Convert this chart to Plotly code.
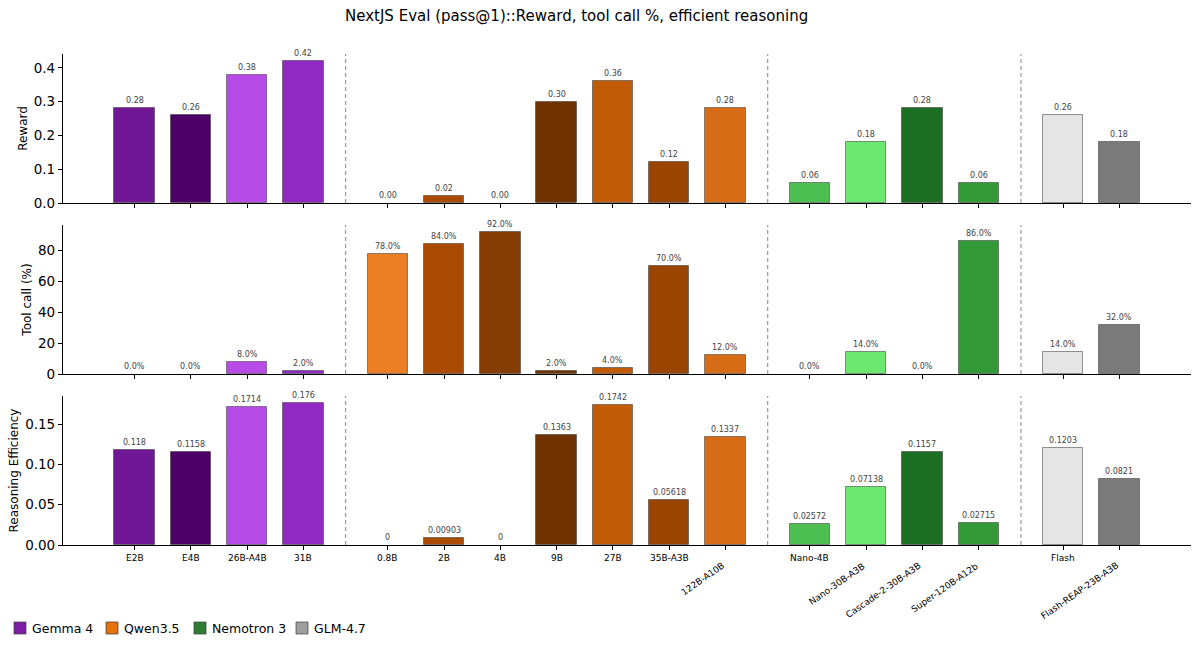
import plotly.graph_objects as go

# ---------------- data ----------------
families = ["Gemma 4", "Qwen3.5", "Nemotron 3", "GLM-4.7"]
family_colors = ["#7b1fa2", "#e8720c", "#2e7d32", "#9e9e9e"]

gemma_models = ["E2B", "E4B", "26B-A4B", "31B"]
qwen_models = ["0.8B", "2B", "4B", "9B", "27B", "35B-A3B", "122B-A10B"]
nemotron_models = ["Nano-4B", "Nano-30B-A3B", "Cascade-2-30B-A3B", "Super-120B-A12b"]
glm_models = ["Flash", "Flash-REAP-23B-A3B"]

gemma_colors = ["#6f1795", "#4d0068", "#b84ae8", "#9228c3"]
qwen_colors = ["#ea7f26", "#ab4b02", "#853b02", "#6f3200", "#c15b05", "#994400", "#d66c16"]
nemotron_colors = ["#4cbf50", "#6ce870", "#1b6e22", "#329a37"]
glm_colors = ["#e5e5e5", "#7a7a7a"]

gemma_reward = [0.28, 0.26, 0.38, 0.42]
qwen_reward = [0.00, 0.02, 0.00, 0.30, 0.36, 0.12, 0.28]
nemotron_reward = [0.06, 0.18, 0.28, 0.06]
glm_reward = [0.26, 0.18]

gemma_tool = [0.0, 0.0, 8.0, 2.0]
qwen_tool = [78.0, 84.0, 92.0, 2.0, 4.0, 70.0, 12.0]
nemotron_tool = [0.0, 14.0, 0.0, 86.0]
glm_tool = [14.0, 32.0]

gemma_eff = [0.118, 0.1158, 0.1714, 0.176]
qwen_eff = [0, 0.00903, 0, 0.1363, 0.1742, 0.05618, 0.1337]
nemotron_eff = [0.02572, 0.07138, 0.1157, 0.02715]
glm_eff = [0.1203, 0.0821]

title = "NextJS Eval (pass@1)::Reward, tool call %, efficient reasoning"
y_titles = ["Reward", "Tool call (%)", "Reasoning Efficiency"]

# ---------------- assemble ----------------
groups = [gemma_models, qwen_models, nemotron_models, glm_models]
models = sum(groups, [])
colors = gemma_colors + qwen_colors + nemotron_colors + glm_colors
reward = gemma_reward + qwen_reward + nemotron_reward + glm_reward
tool = gemma_tool + qwen_tool + nemotron_tool + glm_tool
eff = gemma_eff + qwen_eff + nemotron_eff + glm_eff

GAP = 0.5
xpos = []
dividers = []
cur = 0.0
for gi, g in enumerate(groups):
    for _ in g:
        xpos.append(cur)
        cur += 1
    if gi < len(groups) - 1:
        dividers.append(cur - 1 + (1 + GAP) / 2)
        cur += GAP

metrics = [reward, tool, eff]
fmts = [lambda v: f"{v:.2f}", lambda v: f"{v:.1f}%", lambda v: f"{v:.4g}"]
tickfmts = [".1f", "d", ".2f"]
dtick = [0.1, 20, 0.05]

FONT = "DejaVu Sans"
W = 1200.0
H = 650.0
ML, MR = 63, 9
PW = W - ML - MR
panel_px = [(54, 203), (225, 374), (396, 545)]
domains = [[1 - b / H, 1 - t / H] for t, b in panel_px]

def px_x(p):
    return (p - ML) / PW

def px_y(p):
    return 1 - p / H

fig = go.Figure()
bar_w = 0.72
for i, vals in enumerate(metrics):
    ax = "" if i == 0 else str(i + 1)
    fig.add_trace(go.Bar(
        x=xpos, y=vals, width=bar_w,
        marker=dict(color=colors,
                    line=dict(color="rgba(60,60,60,0.55)",
                              width=[1 if v > 0 else 0 for v in vals])),
        showlegend=False, xaxis="x" + ax, yaxis="y" + ax, hoverinfo="skip",
    ))

xmin = min(xpos) - bar_w / 2
xmax = max(xpos) + bar_w / 2
pad = (xmax - xmin) * 0.05
xrange_ = [xmin - pad, xmax + pad]

layout = dict(
    width=1200, height=650,
    margin=dict(l=ML, r=MR, t=0, b=0, autoexpand=False),
    plot_bgcolor="white", paper_bgcolor="white",
    font=dict(family=FONT, color="black"),
    bargap=0,
    showlegend=False,
)
for i in range(3):
    ax = "" if i == 0 else str(i + 1)
    ymax = max(metrics[i]) * 1.05
    layout["xaxis" + ax] = dict(
        domain=[0, 1], range=xrange_, anchor="y" + ax,
        tickvals=xpos, showticklabels=False, ticks="outside", ticklen=4, tickwidth=1,
        tickcolor="black", showline=True, linecolor="black", linewidth=1.2,
        showgrid=False, zeroline=False,
    )
    layout["yaxis" + ax] = dict(
        domain=domains[i], range=[0, ymax], anchor="x" + ax,
        dtick=dtick[i], tick0=0, tickformat=tickfmts[i],
        ticks="outside", ticklen=4, tickwidth=1, tickcolor="black",
        showline=True, linecolor="black", linewidth=1.2,
        showgrid=False, zeroline=False,
        tickfont=dict(size=13.5, family=FONT),
        title=dict(text=y_titles[i], font=dict(size=12, family=FONT), standoff=3),
    )
fig.update_layout(**layout)

shapes = []
annotations = []
for i in range(3):
    ax = "" if i == 0 else str(i + 1)
    for d in dividers:
        shapes.append(dict(type="line", xref="x" + ax, yref="y" + ax + " domain",
                           x0=d, x1=d, y0=0, y1=1,
                           line=dict(color="#999999", width=1.2, dash="4px,3px")))
    for xv, v in zip(xpos, metrics[i]):
        annotations.append(dict(x=xv, y=v, xref="x" + ax, yref="y" + ax, text=fmts[i](v),
                                showarrow=False, yanchor="bottom", yshift=1,
                                font=dict(size=8, color="#444444", family=FONT)))

# x tick labels on bottom panel
for xv, m in zip(xpos, models):
    if len(m) > 8:
        annotations.append(dict(x=xv + 0.06, y=px_y(558), xref="x3", yref="paper", text=m,
                                showarrow=False, textangle=-35, xanchor="right", yanchor="top",
                                font=dict(size=9, family=FONT, color="black")))
    else:
        annotations.append(dict(x=xv, y=px_y(551), xref="x3", yref="paper", text=m,
                                showarrow=False, xanchor="center", yanchor="top",
                                font=dict(size=9, family=FONT, color="black")))

# manual legend
legend_sq_left = [14, 106, 194, 296]
sq = 12
ly = 628
for name, c, lx in zip(families, family_colors, legend_sq_left):
    shapes.append(dict(type="rect", xref="paper", yref="paper",
                       x0=px_x(lx), x1=px_x(lx + sq), y0=px_y(ly + sq / 2), y1=px_y(ly - sq / 2),
                       fillcolor=c, line=dict(color="rgba(60,60,60,0.7)", width=1)))
    annotations.append(dict(x=px_x(lx + sq + 4), y=px_y(ly), xref="paper", yref="paper",
                            text=name, showarrow=False, xanchor="left", yanchor="middle",
                            font=dict(size=12.5, family=FONT, color="black")))

annotations.append(dict(x=px_x(576), y=px_y(16), xref="paper", yref="paper",
                        text=title, showarrow=False, xanchor="center", yanchor="middle",
                        font=dict(size=15, family=FONT, color="black")))

fig.update_layout(shapes=shapes, annotations=annotations)
fig.write_html("out.html")
